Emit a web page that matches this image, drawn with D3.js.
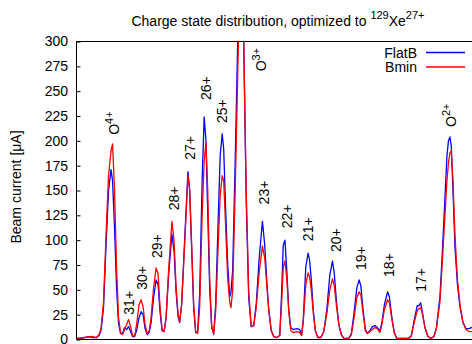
<!DOCTYPE html>
<html>
<head>
<meta charset="utf-8">
<script src="https://cdn.jsdelivr.net/npm/d3@7"></script>
<style>
  html, body { margin: 0; padding: 0; background: #fff; }
  svg { display: block; font-family: "Liberation Sans", Arial, Helvetica, sans-serif; }
</style>
</head>
<body>
<svg id="chart" width="472" height="344"></svg>
<script>
// Analyser scan position (arbitrary scan channel)
const scanStep = [
  0, 4, 8, 12, 16, 20, 22.5, 24.5, 27, 29.5,
  32, 34.5, 36, 38, 40, 42, 44, 46, 48, 50,
  52, 54, 56, 58, 60, 62.5, 64.5, 66.5, 68.5, 70.5,
  72.5, 74.5, 77, 79.5, 81.5, 83.5, 85.5, 87.5, 89.5, 92,
  95.3, 97.5, 99.5, 101.5, 103, 105, 108, 111.3, 113, 115,
  117, 119, 121, 123, 125.5, 127.5, 129.3, 131, 133, 135,
  137, 139, 141.5, 143.5, 145.5, 147, 149, 151, 153, 154.3,
  156, 158.5, 161, 164.5, 167, 169.5, 172, 174.5, 177, 179.5,
  182.5, 185.7, 188, 190, 192, 194.5, 197, 200, 203, 204.8,
  206.5, 208.2, 210, 212, 214, 216.5, 220, 223, 224.8, 226.5,
  229, 231.3, 232.8, 234.5, 236.5, 238.5, 241, 244, 247, 250,
  253, 255.7, 257.5, 259.5, 262, 264.5, 267, 272, 274.5, 277,
  280, 282.3, 284, 286, 288.5, 290.5, 293, 295.5, 298, 300.5,
  303, 305, 307.5, 310.7, 312.5, 315, 317.5, 320, 326, 332,
  334.5, 337, 340.3, 342, 343.7, 345.5, 348, 351, 354, 357,
  359.5, 363, 365.5, 368, 370, 371.5, 373, 374.3, 376, 378,
  380.5, 383, 386, 389, 392, 394.5, 400
];

// Beam current [uA], flat-B field configuration
const flatB = [
  1, 1, 2, 3, 2, 2, 4, 9, 32, 95,
  150, 171, 160, 112, 52, 16, 6, 6, 12, 10,
  13, 8, 3, 3, 9, 22, 28, 25, 11, 5,
  7, 17, 42, 60, 55, 27, 9, 8, 22, 65,
  106, 88, 47, 23, 17, 35, 100, 169, 150, 92,
  32, 7, 8, 45, 160, 224, 200, 130, 52, 12,
  6, 35, 120, 185, 207, 192, 130, 76, 43, 48,
  70, 180, 300, 430, 300, 140, 42, 13, 14, 36,
  82, 119, 95, 60, 30, 9, 3, 2, 4, 45,
  95, 100, 70, 30, 12, 10, 11, 10, 4, 20,
  73, 87, 80, 60, 30, 9, 2, 2, 8, 30,
  65, 79, 66, 40, 15, 5, 1, 1, 6, 25,
  52, 60, 54, 32, 10, 6, 9, 13, 14, 12,
  9, 17, 35, 48, 43, 22, 7, 1, 1, 1,
  4, 18, 34, 34, 37, 27, 12, 3, 1, 3,
  12, 43, 90, 143, 185, 200, 204, 195, 150, 93,
  55, 33, 17, 11, 11, 12, 13
];

// Beam current [uA], minimum-B field configuration
const bMin = [
  1, 1.5, 2, 2.5, 3, 2, 5, 11, 38, 105,
  165, 190, 197, 150, 72, 22, 7, 5, 10, 15,
  20, 13, 4, 3, 15, 35, 40, 33, 15, 6,
  8, 22, 52, 72, 66, 32, 10, 8, 22, 70,
  119, 98, 52, 25, 18, 35, 95, 165, 152, 96,
  36, 8, 6, 32, 125, 180, 198, 152, 62, 14,
  5, 28, 95, 145, 165, 160, 112, 62, 38, 32,
  50, 150, 265, 430, 300, 150, 48, 13, 14, 32,
  68, 94, 82, 55, 30, 9, 3, 2, 4, 35,
  73, 79, 62, 28, 9, 7, 8, 7, 4, 18,
  55, 67, 63, 50, 26, 9, 2, 2, 8, 26,
  50, 61, 54, 35, 15, 5, 1, 1, 5, 20,
  42, 48, 45, 28, 9, 6, 8, 10, 12, 11,
  7, 15, 30, 40, 37, 20, 6, 1, 1, 1,
  4, 16, 29, 31, 32, 26, 12, 3, 1, 3,
  11, 38, 80, 125, 160, 178, 188, 190, 160, 105,
  60, 35, 17, 10, 8, 8, 8
];

const seriesNames = ["FlatB", "Bmin"];
const yTicks = [0, 25, 50, 75, 100, 125, 150, 175, 200, 225, 250, 275, 300];

// Peak identifications: charge state text, optional superscript,
// scan position of the peak and the current level where the text starts
const peakLabels = [
  { text: "O",   sup: "4+", at: 37,    level: 206 },
  { text: "31+", sup: "",   at: 52,    level: 25 },
  { text: "30+", sup: "",   at: 65,    level: 50 },
  { text: "29+", sup: "",   at: 80,    level: 82 },
  { text: "28+", sup: "",   at: 97,    level: 130 },
  { text: "27+", sup: "",   at: 113.5, level: 181 },
  { text: "26+", sup: "",   at: 129,   level: 241 },
  { text: "25+", sup: "",   at: 145.5, level: 218 },
  { text: "O",   sup: "3+", at: 184,   level: 270 },
  { text: "23+", sup: "",   at: 187,   level: 136 },
  { text: "22+", sup: "",   at: 210.5, level: 112 },
  { text: "21+", sup: "",   at: 231,   level: 99 },
  { text: "20+", sup: "",   at: 259,   level: 88 },
  { text: "19+", sup: "",   at: 284,   level: 70 },
  { text: "18+", sup: "",   at: 312,   level: 63 },
  { text: "17+", sup: "",   at: 344.5, level: 48 },
  { text: "O",   sup: "2+", at: 374,   level: 214 }
];

const svg = d3.select("#chart");
const plotLeft = 76.5, plotRight = 480, plotTop = 41.5, plotBottom = 339.5;
const fontSize = 14;

const x = d3.scaleLinear().domain([0, 403]).range([plotLeft, plotRight]);
const y = d3.scaleLinear().domain([0, 300]).range([plotBottom, plotTop]);

// Plot area clip
svg.append("defs").append("clipPath").attr("id", "plotClip")
  .append("rect").attr("x", plotLeft).attr("y", plotTop)
  .attr("width", plotRight - plotLeft).attr("height", plotBottom - plotTop);

// Title with superscripts
const title = svg.append("text")
  .attr("x", 278).attr("y", 26)
  .attr("text-anchor", "middle")
  .attr("font-size", fontSize).attr("fill", "#000");
title.append("tspan").text("Charge state distribution, optimized to ");
title.append("tspan").attr("dy", -7).attr("font-size", 11).text("129");
title.append("tspan").attr("dy", 7).text("Xe");
title.append("tspan").attr("dy", -7).attr("font-size", 11).text("27+");

// Y axis with inward ticks
const yAxis = svg.append("g")
  .attr("transform", `translate(${plotLeft},0)`)
  .call(d3.axisLeft(y).tickValues(yTicks).tickSizeInner(-4).tickSizeOuter(0).tickPadding(8.5));
yAxis.select(".domain").remove();
yAxis.selectAll(".tick line").attr("stroke", "#000");
yAxis.selectAll(".tick text")
  .attr("font-size", fontSize)
  .attr("font-family", "'Liberation Sans', Arial, sans-serif")
  .attr("fill", "#000");

// Y axis title
svg.append("text")
  .attr("transform", `translate(21,187) rotate(-90)`)
  .attr("text-anchor", "middle")
  .attr("font-size", fontSize).attr("fill", "#000")
  .text("Beam current [\u03bcA]");

// Frame (the right edge lies outside the view)
svg.append("path")
  .attr("d", `M${plotRight},${plotTop}H${plotLeft}V${plotBottom}H${plotRight}`)
  .attr("fill", "none").attr("stroke", "#000").attr("stroke-width", 1);

// Curves
const seriesColors = ["#0000ff", "#ff0000"];
const seriesValues = [flatB, bMin];
const line = d3.line().x(d => x(d[0])).y(d => y(d[1]));
const curves = svg.append("g").attr("clip-path", "url(#plotClip)");
seriesValues.forEach((vals, i) => {
  const pts = scanStep.map((s, k) => [s, vals[k]]);
  curves.append("path")
    .datum(pts)
    .attr("d", line)
    .attr("fill", "none")
    .attr("stroke", seriesColors[i])
    .attr("stroke-width", 1.3)
    .attr("stroke-linejoin", "round");
});

// Peak labels, reading upward
const labels = svg.append("g").attr("font-size", fontSize).attr("fill", "#000");
peakLabels.forEach(l => {
  const t = labels.append("text")
    .attr("transform", `translate(${x(l.at) + 5},${y(l.level)}) rotate(-90)`);
  t.append("tspan").text(l.text);
  if (l.sup) t.append("tspan").attr("dy", -6).attr("font-size", 11).text(l.sup);
});

// Legend
const legend = svg.append("g");
seriesNames.forEach((name, i) => {
  const ly = 52.5 + i * 14.5;
  legend.append("text")
    .attr("x", 417).attr("y", ly + 5)
    .attr("text-anchor", "end")
    .attr("font-size", fontSize).attr("fill", "#000")
    .text(name);
  legend.append("line")
    .attr("x1", 426).attr("x2", 465)
    .attr("y1", ly).attr("y2", ly)
    .attr("stroke", seriesColors[i]).attr("stroke-width", 1.3);
});
</script>
</body>
</html>
